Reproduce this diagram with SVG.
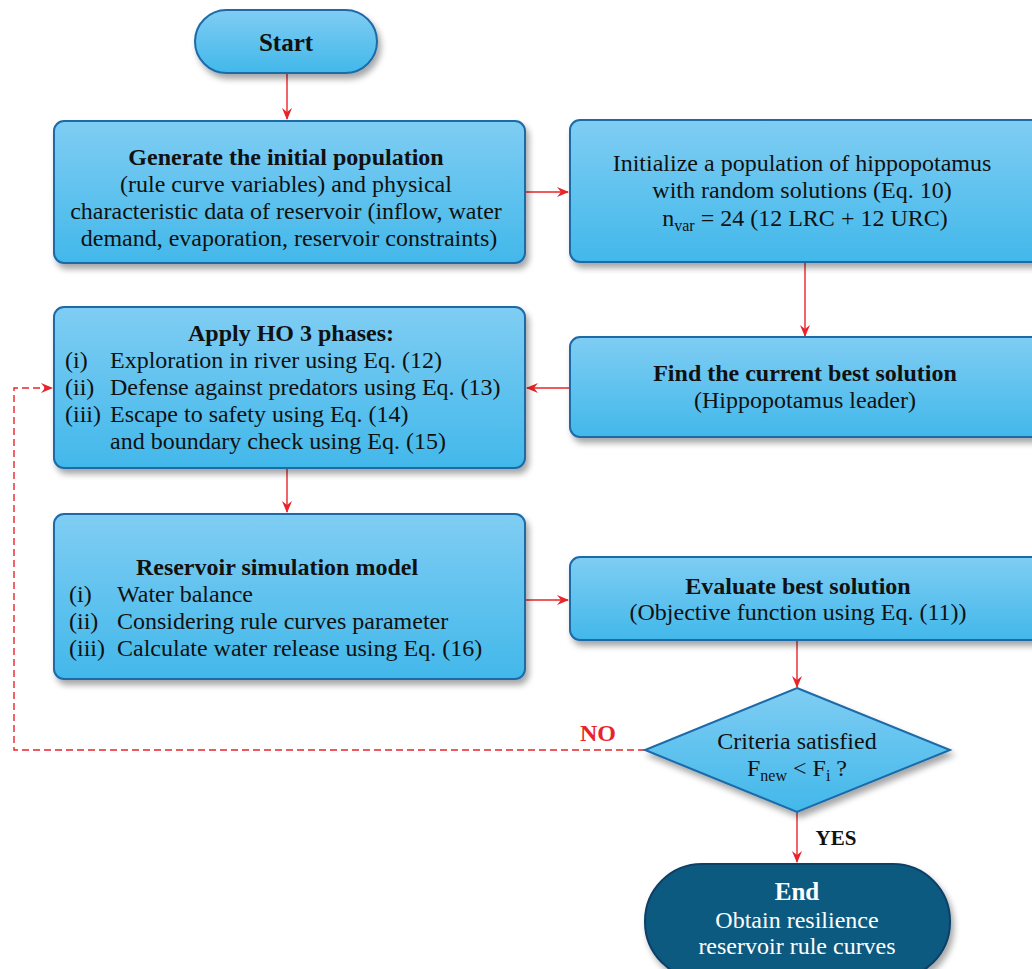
<svg xmlns="http://www.w3.org/2000/svg" width="1032" height="969" viewBox="0 0 1032 969">
<defs>
<linearGradient id="g" x1="0" y1="0" x2="0" y2="1">
<stop offset="0" stop-color="#7fcdf3"/>
<stop offset="1" stop-color="#42b8ea"/>
</linearGradient>
<filter id="sh" x="-10%" y="-10%" width="130%" height="140%">
<feDropShadow dx="3" dy="5" stdDeviation="3" flood-color="#000" flood-opacity="0.35"/>
</filter>
<marker id="ah" viewBox="0 0 12 10" refX="11" refY="5" markerWidth="12" markerHeight="10" markerUnits="userSpaceOnUse" orient="auto">
<path d="M0,0 L12,5 L0,10 L4,5 Z" fill="#e8242a"/>
</marker>
<style>
.box{fill:url(#g);stroke:#1b6aa8;stroke-width:2;filter:url(#sh)}
.end{fill:#0c5a80;stroke:#0a3f66;stroke-width:2;filter:url(#sh)}
.t{font-family:"Liberation Serif",serif;font-size:24px;fill:#111}
.b{font-weight:bold}
.c{text-anchor:middle}
.w{fill:#fff}
.s{font-size:16px}
.ln{fill:none;stroke:#e8242a;stroke-width:1.4}
.dash{stroke-dasharray:7 4}
</style>
</defs>
<rect width="1032" height="969" fill="#fff"/>

<g id="connectors">
<path class="ln" d="M287,73 V119" marker-end="url(#ah)"/>
<path class="ln" d="M525,192 H568" marker-end="url(#ah)"/>
<path class="ln" d="M805,262 V336" marker-end="url(#ah)"/>
<path class="ln" d="M570,388 H527" marker-end="url(#ah)"/>
<path class="ln" d="M287,468 V512" marker-end="url(#ah)"/>
<path class="ln" d="M525,600 H568" marker-end="url(#ah)"/>
<path class="ln" d="M797,640 V687" marker-end="url(#ah)"/>
<path class="ln" d="M797,812 V862" marker-end="url(#ah)"/>
<path class="ln dash" d="M645,750 H14 V388 H52" marker-end="url(#ah)"/>
<text class="t b" x="598" y="741" text-anchor="middle" style="fill:#e8242a">NO</text>
<text class="t b" x="836" y="845" text-anchor="middle" style="font-size:21px">YES</text>
</g>

<g id="start">
<rect class="box" x="195" y="10" width="182" height="63" rx="31.5"/>
<text class="t b c" x="286" y="51" style="font-size:25px">Start</text>
</g>

<g id="generate">
<rect class="box" x="54" y="121" width="471" height="142" rx="10"/>
<text class="t c" x="289" y="165"><tspan class="b">Generate the initial population</tspan>
<tspan x="289" dy="27">(rule curve variables) and physical</tspan>
<tspan x="289" dy="27">characteristic data of reservoir (inflow, water</tspan>
<tspan x="289" dy="27">demand, evaporation, reservoir constraints)</tspan></text>
</g>

<g id="initialize">
<rect class="box" x="570" y="120" width="480" height="142" rx="10"/>
<text class="t c" x="805" y="171">Initialize a population of hippopotamus
<tspan x="805" dy="27">with random solutions (Eq. 10)</tspan>
<tspan x="805" dy="28">n<tspan class="s" dy="5">var</tspan><tspan dy="-5"> = 24 (12 LRC + 12 URC)</tspan></tspan></text>
</g>

<g id="find">
<rect class="box" x="570" y="337" width="480" height="100" rx="10"/>
<text class="t b c" x="805" y="381">Find the current best solution</text>
<text class="t c" x="805" y="408">(Hippopotamus leader)</text>
</g>

<g id="apply">
<rect class="box" x="54" y="307" width="471" height="161" rx="10"/>
<text class="t b c" x="291" y="341">Apply HO 3 phases:</text>
<text class="t" x="65" y="368">(i)</text>
<text class="t" x="110" y="368">Exploration in river using Eq. (12)</text>
<text class="t" x="65" y="395">(ii)</text>
<text class="t" x="110" y="395">Defense against predators using Eq. (13)</text>
<text class="t" x="65" y="422">(iii)</text>
<text class="t" x="110" y="422">Escape to safety using Eq. (14)</text>
<text class="t" x="110" y="449">and boundary check using Eq. (15)</text>
</g>

<g id="reservoir">
<rect class="box" x="54" y="514" width="471" height="165" rx="10"/>
<text class="t b c" x="277" y="575">Reservoir simulation model</text>
<text class="t" x="69" y="602">(i)</text>
<text class="t" x="117" y="602">Water balance</text>
<text class="t" x="69" y="629">(ii)</text>
<text class="t" x="117" y="629">Considering rule curves parameter</text>
<text class="t" x="69" y="656">(iii)</text>
<text class="t" x="117" y="656">Calculate water release using Eq. (16)</text>
</g>

<g id="evaluate">
<rect class="box" x="570" y="557" width="480" height="83" rx="10"/>
<text class="t b c" x="798" y="594">Evaluate best solution</text>
<text class="t c" x="798" y="620">(Objective function using Eq. (11))</text>
</g>

<g id="criteria">
<path class="box" d="M797,688 L950,750 L797,812 L645,750 Z" style="stroke-linejoin:miter"/>
<text class="t c" x="797" y="749">Criteria satisfied</text>
<text class="t c" x="797" y="776">F<tspan class="s" dy="5">new</tspan><tspan dy="-5"> &lt; F</tspan><tspan class="s" dy="5">i</tspan><tspan dy="-5"> ?</tspan></text>
</g>

<g id="end">
<rect class="end" x="645" y="864" width="305" height="115" rx="57"/>
<text class="t b c w" x="797" y="900" style="font-size:25px">End</text>
<text class="t c w" x="797" y="928">Obtain resilience</text>
<text class="t c w" x="797" y="954">reservoir rule curves</text>
</g>
</svg>
